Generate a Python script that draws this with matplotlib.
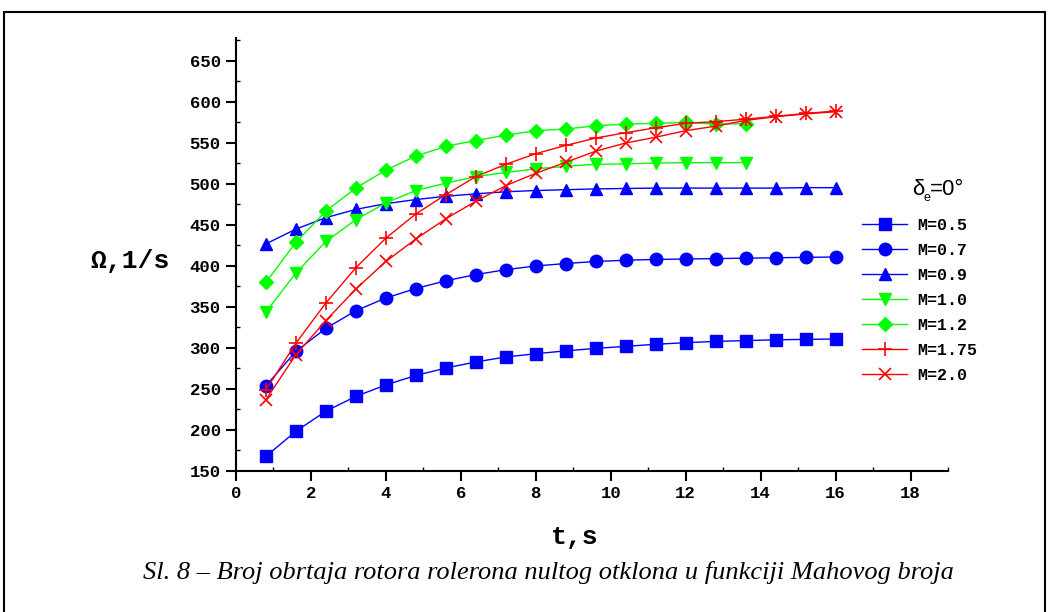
import numpy as np
import matplotlib.pyplot as plt
from matplotlib.ticker import MultipleLocator
from matplotlib.patches import Rectangle

t = [0.8 * i for i in range(1, 21)]

m05 = [168, 198.5, 223, 241, 255, 266.5, 275.5, 283, 289, 293, 296.5, 299.5, 302, 304.5, 306.5, 308, 309, 310, 310.5, 311]
m07 = [254, 296, 324, 345.5, 361, 372.5, 382, 389.5, 395.5, 400, 403, 405.5, 407, 408, 408.5, 409, 409.5, 410, 410.5, 411]
m09 = [427, 445, 459, 469, 476, 481, 485, 488, 490.5, 492, 493, 494, 494.5, 495, 495, 495, 495, 495, 495.5, 495.5]
m10 = [344, 391.5, 430, 456.5, 477, 492, 501, 509, 514, 518.5, 521.5, 524, 524.5, 525.5, 526, 526, 526]
m12 = [380, 429, 467, 495, 517, 534, 546, 553, 559.5, 565, 567, 571, 573, 574, 575, 573, 573.5]
m175 = [249, 306, 355, 398, 434, 463.5, 487, 509, 524, 537, 547, 556, 562.5, 568.5, 574, 576, 579, 582.5, 586, 589]
m20 = [237, 292, 333.5, 372, 405.5, 433, 457.5, 479, 498, 513, 526.5, 540, 550, 557, 565, 570.5, 577.5, 582, 585.5, 588]

labels = ['M=0.5', 'M=0.7', 'M=0.9', 'M=1.0', 'M=1.2', 'M=1.75', 'M=2.0']

W, H = 1049, 612
fig = plt.figure(figsize=(W / 100, H / 100), dpi=100)
ax = fig.add_axes([236 / W, 1 - 471 / H, (948 - 236) / W, (471 - 38) / H])

blue = '#0000ff'
green = '#00ff00'
red = '#ff0000'

ax.plot(t, m05, color=blue, lw=1, marker='s', ms=8, mec=blue, label=labels[0])
ax.plot(t, m07, color=blue, lw=1, marker='o', ms=9, mec=blue, label=labels[1])
ax.plot(t, m09, color=blue, lw=1, marker='^', ms=9, mec=blue, label=labels[2])
ax.plot(t[:len(m10)], m10, color=green, lw=1, marker='v', ms=9, mec=green, label=labels[3])
ax.plot(t[:len(m12)], m12, color=green, lw=1, marker='D', ms=7, mec=green, label=labels[4])
ax.plot(t, m175, color=red, lw=1, marker='+', ms=10, mew=1.2, label=labels[5])
ax.plot(t, m20, color=red, lw=1, marker='x', ms=9, mew=1.2, label=labels[6])

ax.set_xlim(0, 19)
ax.set_ylim(150, 678)
ax.xaxis.set_minor_locator(MultipleLocator(1))
ax.yaxis.set_minor_locator(MultipleLocator(25))
ax.set_xticks(range(0, 19, 2))
ax.set_yticks(range(150, 651, 50))

for s in ['top', 'right']:
    ax.spines[s].set_visible(False)
for s in ['left', 'bottom']:
    ax.spines[s].set_linewidth(1.5)

ax.tick_params(which='major', direction='out', length=7, width=1.5, pad=4)
ax.tick_params(which='minor', direction='in', length=3, width=1)
for lab in ax.get_xticklabels() + ax.get_yticklabels():
    lab.set_family('Liberation Mono')
    lab.set_fontweight('bold')
    lab.set_fontsize(12.5)

fig.text(130 / W, 1 - 261 / H, 'Ω,1/s', family='Liberation Mono', fontweight='bold',
         fontsize=19, ha='center', va='center')
fig.text(575 / W, 1 - 537 / H, 't,s', family='Liberation Mono', fontweight='bold',
         fontsize=19, ha='center', va='center')

ax.legend(loc='upper left', bbox_to_anchor=(862 / W, 1 - 218 / H),
          bbox_transform=fig.transFigure, frameon=False,
          prop={'family': 'Liberation Mono', 'weight': 'bold', 'size': 12},
          handlelength=2.7, labelspacing=0.6, borderpad=0, borderaxespad=0,
          handletextpad=0.6)

# legend title: delta with subscript e
fig.text(912 / W, 1 - 195 / H, 'δ', family='Liberation Sans', fontsize=16,
         ha='left', va='baseline')
fig.text(923.5 / W, 1 - 201 / H, 'e', family='Liberation Sans', fontsize=9,
         ha='left', va='baseline')
fig.text(930 / W, 1 - 195 / H, '=0°', family='Liberation Sans', fontsize=16,
         ha='left', va='baseline')

fig.text(143 / W, 1 - 572 / H,
         'Sl. 8 – Broj obrtaja rotora rolerona nultog otklona u funkciji Mahovog broja',
         family='Liberation Serif', style='italic', fontsize=19, ha='left', va='center')

fig.add_artist(Rectangle((4 / W, -0.05), 1041 / W, 1 - 12 / H + 0.05,
                         transform=fig.transFigure, fill=False, lw=1.5, ec='black'))

fig.savefig('out.png', dpi=100)
